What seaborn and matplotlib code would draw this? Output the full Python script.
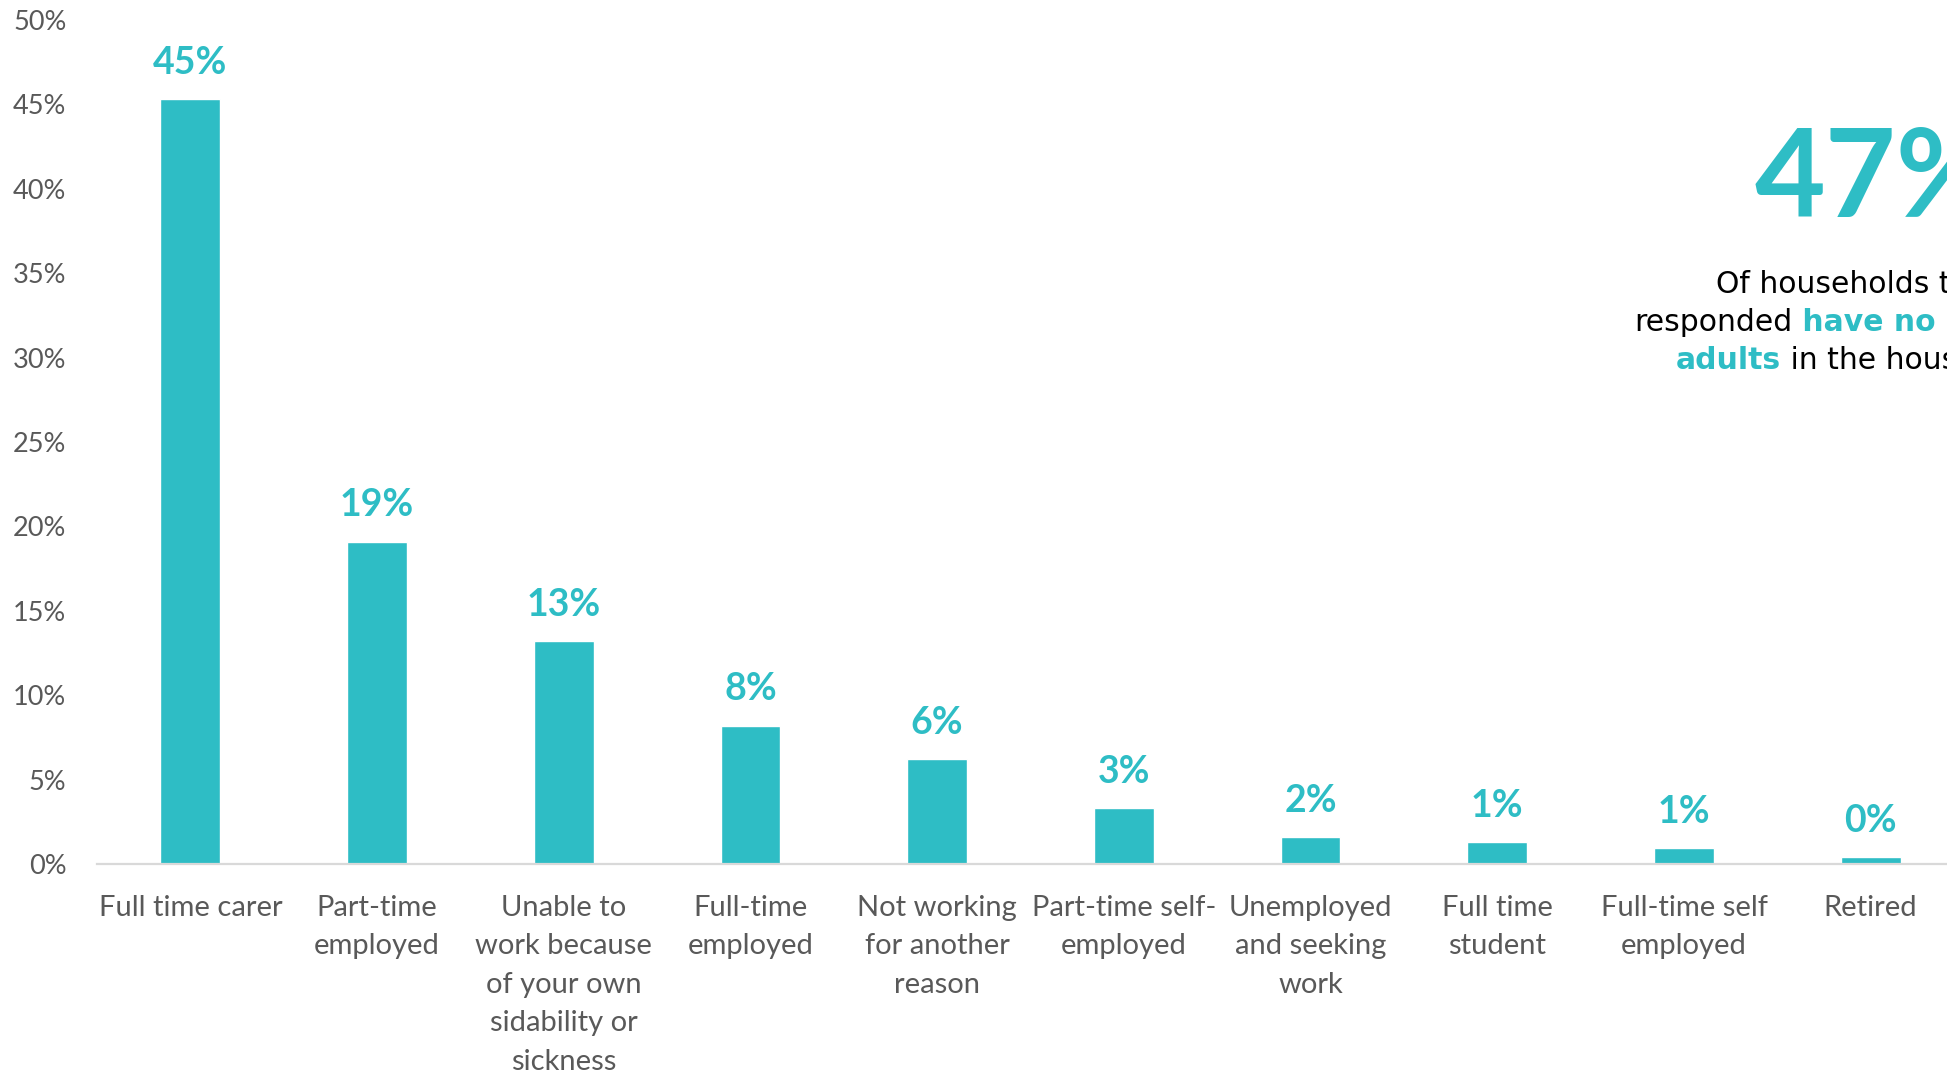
import matplotlib
matplotlib.use("Agg")
import matplotlib.pyplot as plt
import matplotlib.transforms as mtransforms
import seaborn as sns

# ==========================================
# data
# ==========================================
CATEGORIES = [
    "Full time carer",
    "Part-time\nemployed",
    "Unable to\nwork because\nof your own\nsidability or\nsickness",
    "Full-time\nemployed",
    "Not working\nfor another\nreason",
    "Part-time self-\nemployed",
    "Unemployed\nand seeking\nwork",
    "Full time\nstudent",
    "Full-time self\nemployed",
    "Retired",
]
VALUES = [45.3, 19.1, 13.2, 8.2, 6.2, 3.3, 1.6, 1.3, 0.95, 0.4]
Y_TICKS = [0, 5, 10, 15, 20, 25, 30, 35, 40, 45, 50]

HEADLINE = "47%"
NOTE_LINES = [
    [("Of households that", "black", "normal")],
    [("responded", "black", "normal"), (" have no working", "teal", "bold")],
    [("adults", "teal", "bold"), (" in the household", "black", "normal")],
]

TEAL = "#2EBDC5"
GREY = "#595959"
FONT = ["Lato", "DejaVu Sans"]

sns.set_style("white")
plt.rcParams["font.family"] = FONT

W, H = 1947, 1075
fig = plt.figure(figsize=(W / 100, H / 100), dpi=100)
# plot area runs a little past the right edge, as in the cropped source
ax = fig.add_axes([97 / W, 1 - 864 / H, 1867 / W, (864 - 20) / H])

sns.barplot(x=CATEGORIES, y=VALUES, color=TEAL, saturation=1, width=0.32, ax=ax)

ax.set_ylim(0, 50)
ax.set_xlim(-0.5, len(CATEGORIES) - 0.5)
ax.set_yticks(Y_TICKS)
ax.set_yticklabels([f"{t}%" for t in Y_TICKS])
ax.set_xlabel("")
ax.set_ylabel("")

for side in ["top", "right", "left"]:
    ax.spines[side].set_visible(False)
ax.spines["bottom"].set_color("#D9D9D9")
ax.spines["bottom"].set_linewidth(1.6)

ax.tick_params(axis="y", length=0, pad=22, labelsize=19.5, labelcolor=GREY)
ax.tick_params(axis="x", length=0, pad=22, labelsize=21, labelcolor=GREY)
for lbl in ax.get_xticklabels():
    lbl.set_linespacing(1.6)
    lbl.set_multialignment("center")

# value labels above bars
for i, v in enumerate(VALUES):
    ax.annotate(f"{round(v):.0f}%", (i, v), xytext=(0, 26), textcoords="offset points",
                ha="center", va="center", fontsize=27, fontweight="bold", color=TEAL)

# headline callout on the right (cut off by the figure edge like the source)
ident = mtransforms.IdentityTransform()
fig.text(1755, H - 217, HEADLINE, transform=ident, ha="left", va="baseline",
         fontsize=88, fontweight="bold", color=TEAL)

renderer = fig.canvas.get_renderer()
baselines = [293, 331, 369]
center_x = 1858
for parts, base in zip(NOTE_LINES, baselines):
    texts = []
    for s, col, weight in parts:
        t = fig.text(0, H - base, s, transform=ident, ha="left", va="baseline",
                     fontsize=21.5, fontweight=weight, family="DejaVu Sans",
                     color=TEAL if col == "teal" else "black")
        texts.append(t)
    widths = [t.get_window_extent(renderer).width for t in texts]
    x = center_x - sum(widths) / 2
    for t, w in zip(texts, widths):
        t.set_x(x)
        x += w

fig.savefig("out.png", dpi=100)
